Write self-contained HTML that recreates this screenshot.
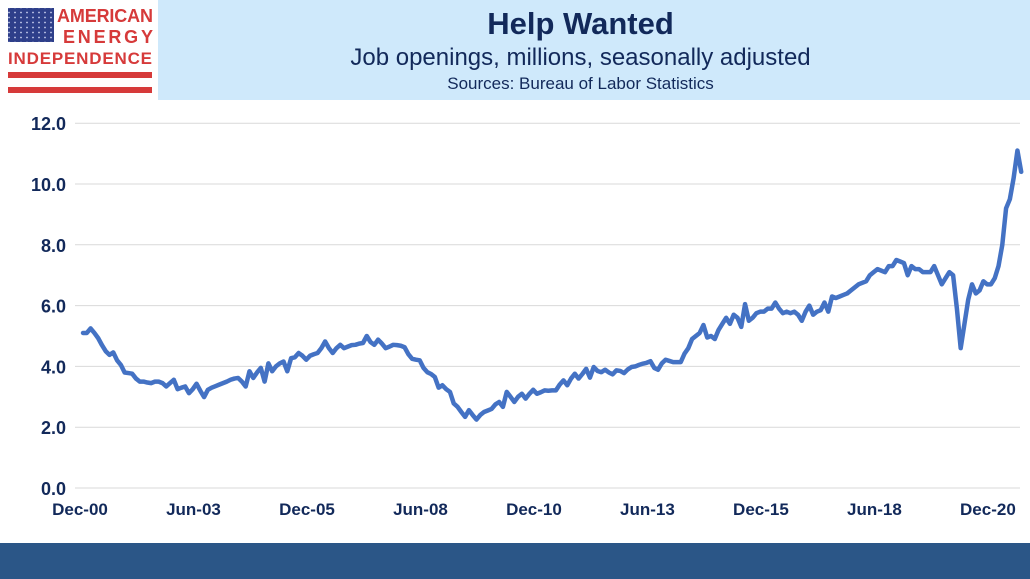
<!DOCTYPE html>
<html><head><meta charset="utf-8"><style>
body{margin:0;width:1030px;height:579px;background:#fff;overflow:hidden;font-family:"Liberation Sans",sans-serif;position:relative}
#hdr{position:absolute;left:158px;top:0;width:872px;height:100px;background:#cfe9fb}
.t{position:absolute;left:158px;width:845px;text-align:center;color:#12295a}
#bar{position:absolute;left:0;top:543px;width:1030px;height:36px;background:#2b5687}
</style></head><body>
<div id="hdr"></div>
<div class="t" style="top:6px;font-size:31px;font-weight:bold">Help Wanted</div>
<div class="t" style="top:44px;font-size:24px">Job openings, millions, seasonally adjusted</div>
<div class="t" style="top:74px;font-size:17px">Sources: Bureau of Labor Statistics</div>
<svg style="position:absolute;left:0;top:0" width="158" height="100">
<defs><pattern id="st" width="6" height="5" patternUnits="userSpaceOnUse"><circle cx="3" cy="2.5" r="0.9" fill="#c8d0ee"/></pattern></defs>
<rect x="8" y="8" width="46" height="34" fill="#2e3f8a"/>
<rect x="8" y="8" width="46" height="34" fill="url(#st)"/>
<text x="57" y="22" font-size="18" font-weight="bold" fill="#d63a3a" textLength="96" font-family="Liberation Sans">AMERICAN</text>
<text x="63" y="43" font-size="18" font-weight="bold" fill="#d63a3a" textLength="90" font-family="Liberation Sans">ENERGY</text>
<text x="8" y="64" font-size="17" font-weight="bold" fill="#d63a3a" textLength="144" font-family="Liberation Sans">INDEPENDENCE</text>
<rect x="8" y="72" width="144" height="6" fill="#d63a3a"/>
<rect x="8" y="87" width="144" height="6" fill="#d63a3a"/>
</svg>
<svg id="chart" style="position:absolute;left:0;top:100px" width="1030" height="443"></svg>
<div id="bar"></div>
<script>
const yTicks=[0,2,4,6,8,10,12];
const xLabels=["Dec-00","Jun-03","Dec-05","Jun-08","Dec-10","Jun-13","Dec-15","Jun-18","Dec-20"];
const xLabelMonths=[0,30,60,90,120,150,180,210,240];
const openings=[5.1,
5.1,5.25,5.1,4.93,4.7,4.5,4.38,4.46,4.2,4.05,3.8,3.78,
3.76,3.6,3.5,3.5,3.47,3.45,3.5,3.5,3.45,3.34,3.45,3.56,
3.25,3.3,3.34,3.12,3.25,3.43,3.2,2.99,3.23,3.3,3.35,3.4,
3.45,3.5,3.56,3.6,3.62,3.5,3.34,3.84,3.62,3.8,3.95,3.5,
4.1,3.84,4.0,4.1,4.16,3.84,4.27,4.3,4.44,4.35,4.22,4.35,
4.4,4.44,4.6,4.82,4.6,4.44,4.6,4.71,4.6,4.65,4.7,4.71,
4.75,4.77,5.0,4.8,4.71,4.88,4.75,4.6,4.65,4.71,4.7,4.68,
4.63,4.4,4.25,4.22,4.2,3.95,3.81,3.75,3.65,3.3,3.38,3.25,
3.16,2.78,2.67,2.5,2.34,2.56,2.4,2.25,2.4,2.5,2.55,2.6,
2.75,2.83,2.67,3.16,3.0,2.83,3.0,3.1,2.94,3.1,3.23,3.1,
3.15,3.21,3.2,3.21,3.21,3.4,3.54,3.38,3.6,3.76,3.6,3.75,
3.92,3.63,3.98,3.85,3.81,3.89,3.8,3.74,3.87,3.85,3.78,3.9,
3.98,4.0,4.05,4.09,4.12,4.17,3.95,3.89,4.1,4.22,4.18,4.14,
4.14,4.14,4.42,4.6,4.9,5.0,5.1,5.36,4.95,5.0,4.9,5.2,
5.4,5.6,5.4,5.7,5.6,5.3,6.05,5.5,5.6,5.75,5.8,5.8,
5.9,5.9,6.1,5.9,5.75,5.8,5.75,5.8,5.7,5.5,5.8,6.0,
5.7,5.8,5.85,6.1,5.8,6.3,6.25,6.3,6.35,6.4,6.5,6.6,
6.7,6.75,6.8,7.0,7.1,7.2,7.15,7.1,7.3,7.3,7.5,7.45,
7.4,7.0,7.3,7.2,7.2,7.1,7.1,7.1,7.3,7.0,6.7,6.9,
7.1,7.0,5.9,4.6,5.4,6.2,6.7,6.4,6.5,6.8,6.7,6.7,
6.9,7.3,8.0,9.2,9.5,10.2,11.1,10.4];
const NS="http://www.w3.org/2000/svg";
const svg=document.getElementById('chart');
const X0=80,DX=3.783,Y0=388,DY=30.4;
const xs=m=>X0+m*DX, ys=v=>Y0-v*DY;
function mk(t,a){const e=document.createElementNS(NS,t);for(const k in a)e.setAttribute(k,a[k]);svg.appendChild(e);return e;}
yTicks.forEach(v=>{
 if(v>0){const g=mk('line',{x1:75,x2:1020,y1:ys(v),y2:ys(v),stroke:'#d9d9d9','stroke-width':1});
 
 }
 const t=mk('text',{x:66,y:ys(v)+7,'text-anchor':'end','font-size':18,'font-weight':'bold',fill:'#12295a','font-family':'Liberation Sans'});
 t.textContent=v.toFixed(1);
 
 
});
const ax=mk('line',{x1:75,x2:1020,y1:Y0,y2:Y0,stroke:'#d9d9d9','stroke-width':1});


xLabels.forEach((l,i)=>{
 const t=mk('text',{x:xs(xLabelMonths[i]),y:Y0+27,'text-anchor':'middle','font-size':17,'font-weight':'bold',fill:'#12295a','font-family':'Liberation Sans'});
 t.textContent=l;
 
 
});
const p=mk('polyline',{points:openings.map((v,i)=>xs(i+0.8)+','+ys(v)).join(' '),fill:'none',stroke:'#4472c4','stroke-width':4.5,'stroke-linejoin':'round','stroke-linecap':'round'});


</script>
</body></html>
